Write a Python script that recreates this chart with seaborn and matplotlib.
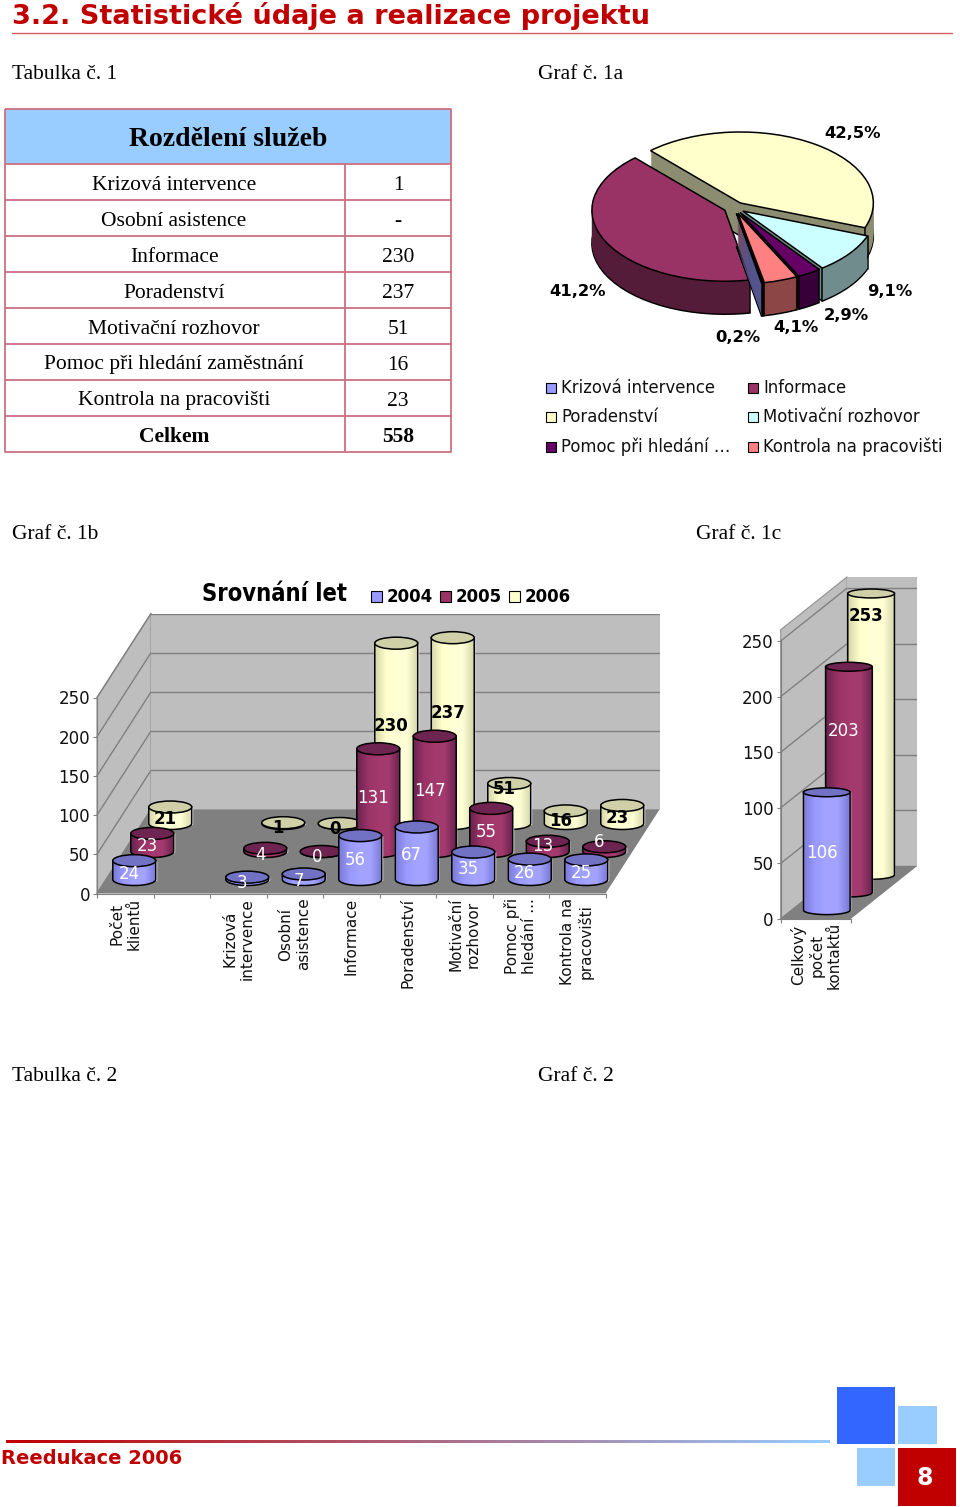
import numpy as np
import pandas as pd
import seaborn as sns
from matplotlib import pyplot as plt
from matplotlib.patches import Ellipse, PathPatch, Polygon, Rectangle, Wedge
from matplotlib.path import Path

W, H = 960, 1507

# table 1 / pie 1a
TABLE_ROWS = ['Krizová intervence', 'Osobní asistence', 'Informace', 'Poradenství', 'Motivační rozhovor',
              'Pomoc při hledání zaměstnání', 'Kontrola na pracovišti', 'Celkem']
TABLE_VALUES = ['1', '-', '230', '237', '51', '16', '23', '558']

PIE_NAMES = ['Krizová intervence', 'Informace', 'Poradenství', 'Motivační rozhovor', 'Pomoc při hledání …',
             'Kontrola na pracovišti']
PIE_VALUES = [1, 230, 237, 51, 16, 23]
PIE_LABELS = ['0,2%', '41,2%', '42,5%', '9,1%', '2,9%', '4,1%']

# graph 1b
YEARS = ['2004', '2005', '2006']
CATEGORIES = ['Počet\nklientů', '', 'Krizová\nintervence', 'Osobní\nasistence', 'Informace', 'Poradenství',
              'Motivační\nrozhovor', 'Pomoc při\nhledání ...', 'Kontrola na\npracovišti']
VALUES_2004 = [24, np.nan, 3, 7, 56, 67, 35, 26, 25]
VALUES_2005 = [23, np.nan, 4, 0, 131, 147, 55, 13, 6]
VALUES_2006 = [21, np.nan, 1, 0, 230, 237, 51, 16, 23]
TICKS = [0, 50, 100, 150, 200, 250]

# graph 1c
CONTACT_CATEGORY = ['Celkový\npočet\nkontaktů']
CONTACTS = [106, 203, 253]

sns.set_theme(style='white')
plt.rcParams['font.family'] = ['DejaVu Sans']

BLUE, MAROON, CREAM, CYAN, PURPLE, PINK = sns.color_palette(
    ['#9999FF', '#993366', '#FFFFCC', '#CCFFFF', '#660066', '#FF8080'])
SERIES = [
    dict(base=BLUE, top='#7272C4', dark='#7C7CD8', light='#A3A3FF', text='white', weight='normal'),
    dict(base=MAROON, top='#6E2450', dark='#6C2450', light='#A33A6E', text='white', weight='normal'),
    dict(base=CREAM, top='#CFCFA8', dark='#D8D8AC', light='#FFFFD6', text='black', weight='bold'),
]
RED = '#C00000'
WALL = '#BEBEBE'
FLOOR = '#808080'
GRID = '#808080'

fig = plt.figure(figsize=(W / 100, H / 100), dpi=100)


def px_axes(x, y_top, w, h, zorder):
    ax = fig.add_axes([x / W, 1 - (y_top + h) / H, w / W, h / H], zorder=zorder)
    ax.patch.set_alpha(0)
    return ax


page = px_axes(0, 0, W, H, 0)
page.set_xlim(0, W)
page.set_ylim(H, 0)
page.axis('off')


def serif(x, y, s, size=15.5, weight='normal', ha='left'):
    page.text(x, y, s, family='Liberation Serif', fontsize=size, fontweight=weight, ha=ha, va='center', color='black')


# heading
page.text(12, 16, '3.2. Statistické údaje a realizace projektu', color=RED, fontsize=19.5, fontweight='bold', va='center')
page.plot([12, 952], [33, 33], color='#D06060', lw=1)
for x, y, s in [(12, 74.5, 'Tabulka č. 1'), (538, 74.5, 'Graf č. 1a'), (12, 534.5, 'Graf č. 1b'),
                (696, 534.5, 'Graf č. 1c'), (12, 1076.5, 'Tabulka č. 2'), (538, 1076.5, 'Graf č. 2')]:
    serif(x, y, s)

# table 1
line = dict(color='#CC7080', lw=1.3, solid_capstyle='butt')
left, right, split, top, head_bottom, row_h = 4.5, 451, 345, 109, 164, 36
page.add_patch(Rectangle((left, top), right - left, head_bottom - top, fc='#99CCFF', ec='none'))
serif((left + right) / 2, 140, 'Rozdělení služeb', size=20, weight='bold', ha='center')
bottom = head_bottom + row_h * len(TABLE_ROWS)
page.plot([left, right, right, left, left], [top, top, bottom, bottom, top], **line)
page.plot([split, split], [head_bottom, bottom], **line)
for i, (name, val) in enumerate(zip(TABLE_ROWS, TABLE_VALUES)):
    y = head_bottom + row_h * i
    page.plot([left, right], [y, y], **line)
    weight = 'bold' if name == 'Celkem' else 'normal'
    serif(174, y + 21, name, size=15.5, weight=weight, ha='center')
    serif(398, y + 21, val, size=15.5, weight=weight, ha='center')

# pie 1a, the tilt comes from squashing the axes
cx, cy, rx, ry, depth = 734.4, 207.7, 133, 71, 33
ax_pie = px_axes(cx - 1.4 * rx, cy - 1.4 * ry, 2.8 * rx, 3.3 * ry, 1)
pie_colors = [BLUE, MAROON, CREAM, CYAN, PURPLE, PINK]
wedges, _ = ax_pie.pie(PIE_VALUES, colors=pie_colors, explode=[0.08] * 6, startangle=-78.5, counterclock=False,
                       wedgeprops=dict(edgecolor='black', linewidth=1.1))
ax_pie.set_aspect('auto')
ax_pie.set_xlim(-1.4, 1.4)
ax_pie.set_ylim(-1.9, 1.4)
order = sorted(range(6), key=lambda k: -wedges[k].center[1])
for z, k in enumerate(order):
    wd = wedges[k]
    side = tuple(0.55 * c for c in pie_colors[k])
    wd.set_zorder(10 + 3 * z + 2)
    dz = depth / ry
    ax_pie.add_patch(Wedge((wd.center[0], wd.center[1] - dz), wd.r, wd.theta1, wd.theta2, fc=side, ec='black', lw=1.1,
                           zorder=10 + 3 * z, clip_on=False))
    for d in np.linspace(0, dz, depth)[:-1]:
        ax_pie.add_patch(Wedge((wd.center[0], wd.center[1] - d), wd.r, wd.theta1, wd.theta2, fc=side, lw=0,
                               zorder=10 + 3 * z + 1, clip_on=False))
    for th in (wd.theta1, wd.theta2):
        if np.sin(np.radians(th)) < 0.05:
            ex = wd.center[0] + wd.r * np.cos(np.radians(th))
            ey = wd.center[1] + wd.r * np.sin(np.radians(th))
            ax_pie.plot([ex, ex], [ey, ey - dz], color='black', lw=1.1, zorder=10 + 3 * z + 1)
PIE_LABEL_POS = [(738, 338), (578, 291), (853, 134), (890, 292), (846, 315), (796, 328)]
for (x, y), s in zip(PIE_LABEL_POS, PIE_LABELS):
    page.text(x, y, s, fontsize=11.8, fontweight='bold', ha='center', va='center', color='black')
PIE_LEGEND_POS = [(546, 388), (748, 388), (546, 417), (748, 417), (546, 447), (748, 447)]
for (x, y), name, col in zip(PIE_LEGEND_POS, PIE_NAMES, pie_colors):
    page.add_patch(Rectangle((x, y - 5.5), 10, 10, fc=col, ec='black', lw=0.8))
    page.text(x + 15, y, name, fontsize=11.9, va='center', color='#111111')


def draw_walls(x0, y0, plane_w, px_per_unit, dx, dy, ymax, ticks):
    """back wall, side wall and floor of the Excel style 3D box"""
    back = px_axes(x0 + dx, y0 - dy - ymax * px_per_unit, plane_w, ymax * px_per_unit, 1)
    back.set_facecolor(WALL)
    back.patch.set_alpha(1)
    back.set_ylim(0, ymax)
    back.set_xticks([])
    back.set_yticks(ticks)
    back.tick_params(left=False, labelleft=False)
    back.grid(axis='y', color=GRID, lw=1)
    sns.despine(ax=back, left=True, bottom=True)
    page.add_patch(Polygon([(x0, y0), (x0 + dx, y0 - dy), (x0 + dx, y0 - dy - ymax * px_per_unit),
                            (x0, y0 - ymax * px_per_unit)], fc=WALL, ec='#909090', lw=0.8))
    # the floor has to sit over the back axes
    back.add_patch(Polygon([(x0, y0), (x0 + dx, y0 - dy), (x0 + dx + plane_w, y0 - dy), (x0 + plane_w, y0)],
                           fc=FLOOR, ec='none', transform=page.transData, clip_on=False))
    for t in ticks:
        y = y0 - t * px_per_unit
        page.plot([x0, x0 + dx], [y, y - dy], color=GRID, lw=1)


def frame_axes(x0, y0, plane_w, px_per_unit, categories, ticks, low, high, cat_pad):
    """front plane with the value and the category axis"""
    ax = px_axes(x0, y0 - high * px_per_unit, plane_w, (high - low) * px_per_unit, 2)
    ax.set_xlim(-0.5, len(categories) - 0.5)
    ax.set_ylim(low, high)
    ax.set_xticks(range(len(categories)), categories, fontsize=12)
    ax.set_xticks(np.arange(len(categories) + 1) - 0.5, minor=True)
    ax.set_yticks(ticks, [str(t) for t in ticks], fontsize=12)
    ax.spines['bottom'].set_position(('data', 0))
    ax.spines['left'].set_bounds(0, ticks[-1])
    sns.despine(ax=ax, top=True, right=True)
    for s in ('bottom', 'left'):
        ax.spines[s].set_color(GRID)
        ax.spines[s].set_linewidth(0.8)
    ax.tick_params(axis='x', which='major', length=0, pad=cat_pad, labelcolor='#111111', labelrotation=90)
    ax.tick_params(axis='x', which='minor', bottom=True, length=3, width=0.8, color=GRID)
    ax.tick_params(axis='y', left=True, length=3, width=0.8, color=GRID, pad=2, labelcolor='#111111')
    plt.setp(ax.get_xticklabels(), multialignment='center', va='top')
    return ax


def draw_layer(x0, y0, plane_w, px_per_unit, categories, values, style, low, high, off, z, bar_w, ell_h):
    """one row of cylinders, a barplot on axes shifted back by the depth offset"""
    ax = px_axes(x0 + off[0], y0 - off[1] - high * px_per_unit, plane_w, (high - low) * px_per_unit, z)
    df = pd.DataFrame({'category': categories, 'value': values})
    sns.barplot(data=df, x='category', y='value', order=categories, color=style['base'], width=bar_w, saturation=1,
                ax=ax, legend=False)
    ax.axis('off')
    grad = np.array(sns.blend_palette([style['dark'], style['base'], style['light'], style['light'], style['dark']],
                                      32))[None, :, :]
    for bar in list(ax.patches):
        height = bar.get_height()
        if not np.isfinite(height):
            continue
        x_l, w = bar.get_x(), bar.get_width()
        mid = x_l + w / 2
        t = np.linspace(2 * np.pi, np.pi, 40)
        outline = np.vstack([[[x_l, 0], [x_l, height], [x_l + w, height], [x_l + w, 0]],
                             np.column_stack([mid + w / 2 * np.cos(t), ell_h / 2 * np.sin(t)])])
        # cylinder body: gradient clipped to the outline
        shape = PathPatch(Path(np.vstack([outline, outline[:1]])), fc='none', ec='black', lw=1.1, zorder=3)
        ax.add_patch(shape)
        im = ax.imshow(grad, extent=[x_l, x_l + w, -ell_h, height], aspect='auto', interpolation='bilinear', zorder=2)
        im.set_clip_path(shape)
        ax.add_patch(Ellipse((mid, height), w, ell_h, fc=style['top'], ec='black', lw=1.1, zorder=4))
    ax.set_xlim(-0.5, len(categories) - 0.5)
    ax.set_ylim(low, high)
    return ax


# graph 1b
x0, y0, plane_w, scale = 97, 893.5, 508.5, 0.784
box_dx, box_dy = 54, 84
low, high = -30, 300
draw_walls(x0, y0, plane_w, scale, box_dx, box_dy, 250, TICKS)
frame_axes(x0, y0, plane_w, scale, CATEGORIES, TICKS, low, high, 3)
LABEL_NUDGE = {(2, 6): (0, 17), (1, 7): (0, 5), (1, 8): (0, 12), (2, 5): (0, 10)}
for i, (vals, style) in enumerate(zip([VALUES_2004, VALUES_2005, VALUES_2006], SERIES)):
    off = (box_dx / 6 + box_dx / 3 * i, box_dy / 6 + box_dy / 3 * i)
    layer = draw_layer(x0, y0, plane_w, scale, CATEGORIES, vals, style, low, high, off, 5 - i, 0.76, 15.3)
    for c, v in enumerate(vals):
        if np.isnan(v):
            continue
        nudge = LABEL_NUDGE.get((i, c), (0, 0))
        layer.annotate(f'{int(v)}', (c, v * 0.567 - 6.5), xytext=(-3.6 + nudge[0] * 0.72, nudge[1] * 0.72),
                       textcoords='offset points', ha='center', va='center', fontsize=12,
                       color=style['text'], fontweight=style['weight'], zorder=6)

page.text(202, 594, 'Srovnání let', fontsize=17, fontweight='bold', va='center', color='black', stretch='condensed')
for x, year, style in zip([371, 440, 509], YEARS, SERIES):
    page.add_patch(Rectangle((x, 591), 10.5, 11, fc=style['base'], ec='black', lw=0.8))
    page.text(x + 16, 596.5, year, fontsize=12, fontweight='bold', va='center', color='black')

# graph 1c
x0, y0, plane_w, scale = 780.7, 919, 70, 1.112
box_dx, box_dy = 66.5, 53
low, high = -20, 280
draw_walls(x0, y0, plane_w, scale, box_dx, box_dy, 307 / 1.112 - 16, TICKS)
frame_axes(x0, y0, plane_w, scale, CONTACT_CATEGORY, TICKS, low, high, 2)
CONTACT_LABEL_Y = [51, 145, 233]
for i, (val, style, lab_y) in enumerate(zip(CONTACTS, SERIES, CONTACT_LABEL_Y)):
    off = (box_dx / 6 + box_dx / 3 * i, box_dy / 6 + box_dy / 3 * i)
    layer = draw_layer(x0, y0, plane_w, scale, CONTACT_CATEGORY, [val], style, low, high, off, 5 - i, 0.667, 8)
    layer.annotate(f'{val}', (0, lab_y), xytext=(-3.6, 0), textcoords='offset points', ha='center', va='center',
                   fontsize=12, color=style['text'], fontweight=style['weight'], zorder=6)

# footer
page.imshow(np.array(sns.blend_palette([RED, '#99CCFF'], 128))[None, :, :], extent=[6, 830, 1443.5, 1441], aspect='auto',
            interpolation='bilinear')
page.set_xlim(0, W)
page.set_ylim(H, 0)
page.text(1, 1459, 'Reedukace 2006', color=RED, fontsize=14, fontweight='bold', va='center')
for (x, y, w, h), c in zip([(837, 1387, 58, 57), (898, 1406, 39, 38), (857, 1448, 38, 38), (898, 1448, 58, 58)],
                           ['#3366FF', '#99CCFF', '#99CCFF', RED]):
    page.add_patch(Rectangle((x, y), w, h, fc=c, ec='none'))
page.text(925, 1478, '8', color='white', fontsize=17, fontweight='bold', ha='center', va='center')

plt.savefig('out.png', dpi=100)
plt.close()
